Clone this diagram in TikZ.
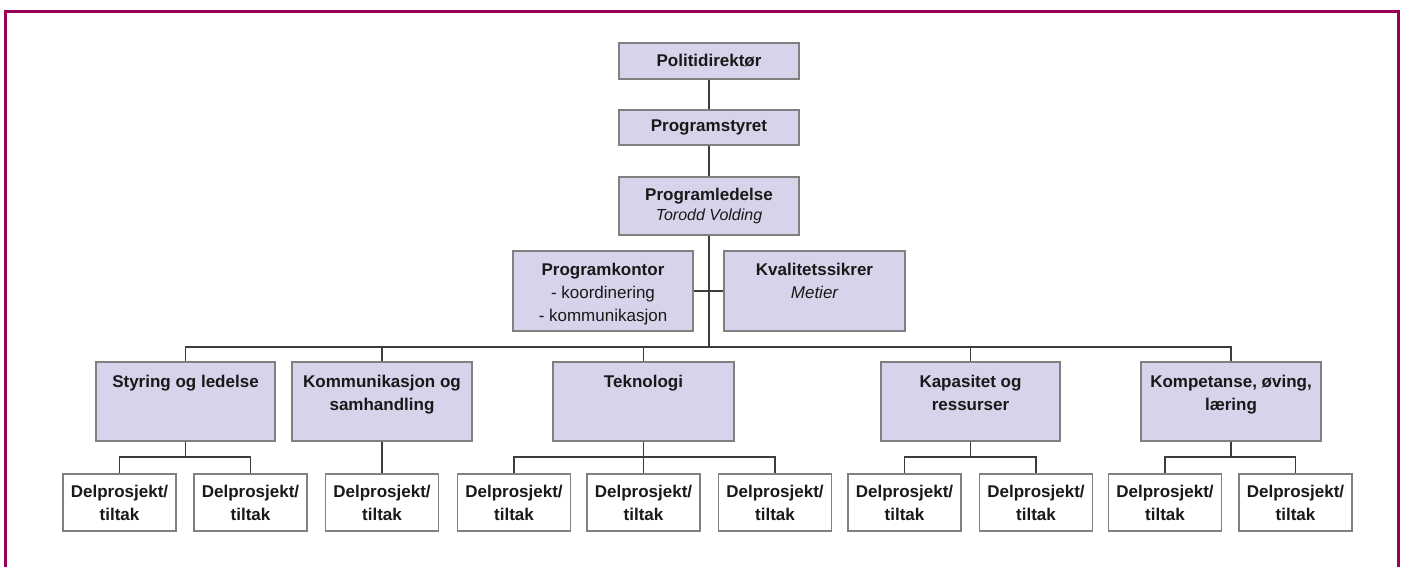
\documentclass[tikz,border=0pt]{standalone}
\usepackage{fontspec}
\setmainfont{Liberation Sans}
\definecolor{framec}{RGB}{153,0,85}
\definecolor{boxfill}{RGB}{213,212,234}
\definecolor{boxline}{RGB}{128,128,128}
\definecolor{linec}{RGB}{60,60,60}
\definecolor{txt}{RGB}{25,25,25}
% top-aligned text box: width, height, first-line strut, text
\newcommand{\tbxt}[4]{\parbox[c][#2pt][t]{#1pt}{\centering\rule{0pt}{#3pt}#4}}
% centred text box: width, height, text
\newcommand{\cbxt}[3]{\parbox[c][#2pt][c]{#1pt}{\centering #3}}
\begin{document}
\begin{tikzpicture}[x=1pt,y=-1pt,
  box/.style={draw=boxline, line width=1.8pt, fill=boxfill, inner sep=0pt,
    text=txt, font=\fontsize{17}{23}\selectfont\bfseries},
  dpbox/.style={box, fill=white},
  conn/.style={draw=linec, line width=1.6pt},
  frameline/.style={draw=framec, line width=3pt}]
\useasboundingbox (0,0) rectangle (1405,567);
\draw[frameline] (5.3,567) -- (5.3,11.3) -- (1398.7,11.3) -- (1398.7,567);

% top chain
\node[box] (pd) at (709,61) {\cbxt{180}{36}{Politidirektør}};
\node[box] (ps) at (709,127.5) {\cbxt{180}{35}{Programstyret}};
\node[box] (pl) at (709,206) {\cbxt{180}{58}{Programledelse\\[-3pt]{\mdseries\itshape\fontsize{16}{20}\selectfont Torodd Volding}}};
\node[box] (pk) at (603,291) {\tbxt{180}{80}{24}{Programkontor\\\mdseries - koordinering\\ - kommunikasjon}};
\node[box] (kv) at (814.5,291) {\tbxt{181}{80}{24}{Kvalitetssikrer\\\mdseries\itshape Metier}};

% level 3
\node[box] (sl) at (185.5,401.5) {\tbxt{179}{79}{25}{Styring og ledelse}};
\node[box] (ks) at (382,401.5) {\tbxt{180}{79}{25}{Kommunikasjon og\\samhandling}};
\node[box] (te) at (643.5,401.5) {\tbxt{181}{79}{25}{Teknologi}};
\node[box] (kr) at (970.5,401.5) {\tbxt{179}{79}{25}{Kapasitet og\\ressurser}};
\node[box] (ko) at (1231,401.5) {\tbxt{180}{79}{25}{Kompetanse, øving,\\læring}};

% level 4
\node[dpbox] (dp1) at (119.5,502.5) {\cbxt{113}{57}{Delprosjekt/\\tiltak}};
\node[dpbox] (dp2) at (250.5,502.5) {\cbxt{113}{57}{Delprosjekt/\\tiltak}};
\node[dpbox] (dp3) at (382,502.5) {\cbxt{113}{57}{Delprosjekt/\\tiltak}};
\node[dpbox] (dp4) at (514,502.5) {\cbxt{113}{57}{Delprosjekt/\\tiltak}};
\node[dpbox] (dp5) at (643.5,502.5) {\cbxt{113}{57}{Delprosjekt/\\tiltak}};
\node[dpbox] (dp6) at (775,502.5) {\cbxt{113}{57}{Delprosjekt/\\tiltak}};
\node[dpbox] (dp7) at (904.5,502.5) {\cbxt{113}{57}{Delprosjekt/\\tiltak}};
\node[dpbox] (dp8) at (1036,502.5) {\cbxt{113}{57}{Delprosjekt/\\tiltak}};
\node[dpbox] (dp9) at (1165,502.5) {\cbxt{113}{57}{Delprosjekt/\\tiltak}};
\node[dpbox] (dp10) at (1295.5,502.5) {\cbxt{113}{57}{Delprosjekt/\\tiltak}};

% connectors, top
\draw[conn] (pd) -- (ps);
\draw[conn] (ps) -- (pl);
\draw[conn] (pk.east) -- (kv.west);
\coordinate (bus) at (709,347);
\draw[conn] (pl.south) -- (bus);
\draw[conn] (sl.north) |- (bus) -| (ko.north);
\draw[conn] (ks.north) -- (ks.north |- bus);
\draw[conn] (te.north) -- (te.north |- bus);
\draw[conn] (kr.north) -- (kr.north |- bus);

% connectors, bottom
\coordinate (sb) at (0,457);
\draw[conn] (sl.south) -- (sl.south |- sb);
\draw[conn] (dp1.north) |- (sl.south |- sb) -| (dp2.north);
\draw[conn] (ks.south) -- (dp3.north);
\draw[conn] (te.south) -- (dp5.north);
\draw[conn] (dp4.north) |- (te.south |- sb) -| (dp6.north);
\draw[conn] (kr.south) -- (kr.south |- sb);
\draw[conn] (dp7.north) |- (kr.south |- sb) -| (dp8.north);
\draw[conn] (ko.south) -- (ko.south |- sb);
\draw[conn] (dp9.north) |- (ko.south |- sb) -| (dp10.north);
\end{tikzpicture}
\end{document}
